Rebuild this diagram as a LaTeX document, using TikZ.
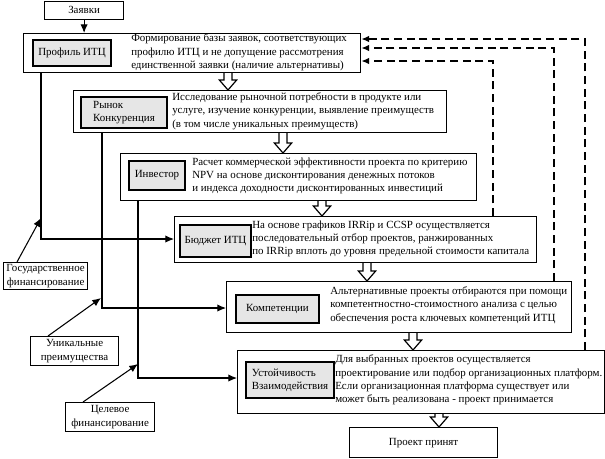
\documentclass[tikz,border=0pt]{standalone}
\usepackage{fontspec}
\setmainfont{Liberation Serif}
\usetikzlibrary{arrows.meta,calc}
\definecolor{lblfill}{RGB}{230,230,230}
\newcommand\hollowarr[3]{%
  \coordinate (hx) at (#1,0);
  \draw[line width=0.9pt,fill=white] let \p1=(#2.south -| hx), \p2=(#3.north -| hx) in
   (\x1-3pt,\y1) -- (\x1-3pt,\y2+7.5pt) -- (\x1-6.5pt,\y2+7.5pt) -- (\x1,\y2) --
   (\x1+6.5pt,\y2+7.5pt) -- (\x1+3pt,\y2+7.5pt) -- (\x1+3pt,\y1);
}
\begin{document}
\begin{tikzpicture}[x=0.75pt,y=-0.75pt,
  font=\fontsize{8.2}{10}\selectfont,
  outer/.style={draw,line width=0.9pt,fill=white,anchor=north west,inner sep=0},
  lbl/.style={draw,line width=1.5pt,fill=lblfill,anchor=north west,inner sep=0,align=center},
  desc/.style={anchor=west,inner sep=0,align=left},
  side/.style={draw,line width=0.9pt,fill=white,anchor=north west,inner sep=0,align=center},
  conn/.style={line width=0.8pt,-{Latex[length=6.5pt,width=5.5pt]}},
  fb/.style={line width=1.2pt,dash pattern=on 6pt off 3.5pt,-{Latex[length=6pt,width=5pt]}}]
\useasboundingbox (0,0) rectangle (605,458);

% top request box
\node[side,minimum width=59.25pt,minimum height=13.5pt] (req) at (44,0.5) {Заявки};

% stage boxes
\node[outer,minimum width=252.75pt,minimum height=29.25pt] (b1) at (23,33) {};
\node[lbl,minimum width=58.5pt,minimum height=19.5pt] (l1) at (32,39) {Профиль ИТЦ};
\node[desc] (t1) at (131,52.5) {Формирование базы заявок, соответствующих\\профилю ИТЦ и не допущение рассмотрения\\единственной заявки (наличие альтернативы)};

\node[outer,minimum width=279.75pt,minimum height=31.5pt] (b2) at (73,90) {};
\node[lbl,minimum width=64.5pt,minimum height=23.25pt,align=left] (l2) at (80,96) {Рынок\\Конкуренция};
\node[desc] (t2) at (172,111) {Исследование рыночной потребности в продукте или\\услуге, изучение конкуренции, выявление преимуществ\\(в том числе уникальных преимуществ)};

\node[outer,minimum width=267pt,minimum height=35.25pt] (b3) at (120,153) {};
\node[lbl,minimum width=42pt,minimum height=21.75pt] (l3) at (128,160) {Инвестор};
\node[desc] (t3) at (192,176) {Расчет коммерческой эффективности проекта по критерию\\NPV на основе дисконтирования денежных потоков\\и индекса доходности дисконтированных инвестиций};

\node[outer,minimum width=271.5pt,minimum height=34.5pt] (b4) at (174,216) {};
\node[lbl,minimum width=53.25pt,minimum height=24pt] (l4) at (179,224) {Бюджет ИТЦ};
\node[desc] (t4) at (252,239) {На основе графиков IRRip и CCSP осуществляется\\последовательный отбор проектов, ранжированных\\по IRRip вплоть до уровня предельной стоимости капитала};

\node[outer,minimum width=258.75pt,minimum height=38.25pt] (b5) at (226,281) {};
\node[lbl,minimum width=62.25pt,minimum height=21pt] (l5) at (235,294) {Компетенции};
\node[desc] (t5) at (330,305) {Альтернативные проекты отбираются при помощи\\компетентностно-стоимостного анализа с целью\\обеспечения роста ключевых компетенций ИТЦ};

\node[outer,minimum width=275.25pt,minimum height=47.25pt] (b6) at (237,350) {};
\node[lbl,minimum width=66pt,minimum height=27pt,align=left] (l6) at (245,361) {Устойчивость\\Взаимодействия};
\node[desc] (t6) at (335,380) {Для выбранных проектов осуществляется\\проектирование или подбор организационных платформ.\\Если организационная платформа существует или\\может быть реализована - проект принимается};

\node[side,minimum width=111pt,minimum height=22.5pt] (fin) at (349,427) {Проект принят};

% side labels
\node[side,minimum width=63pt,minimum height=20.25pt] (gos) at (3,262) {Государственное\\финансирование};
\node[side,minimum width=66pt,minimum height=21.75pt] (uni) at (30,336) {Уникальные\\преимущества};
\node[side,minimum width=66.75pt,minimum height=21.75pt] (tsel) at (65,402) {Целевое\\финансирование};

% request arrow
\draw[conn] (req.south) -- (req.south |- b1.north);

% hollow flow arrows
\hollowarr{228}{b1}{b2}
\hollowarr{283}{b2}{b3}
\hollowarr{322}{b3}{b4}
\hollowarr{367}{b4}{b5}
\hollowarr{413}{b5}{b6}
\hollowarr{439}{b6}{fin}

% left resource lines
\coordinate (x1) at (41,0);
\coordinate (x2) at (102,0);
\coordinate (x3) at (138,0);
\coordinate (y1) at (0,239);
\coordinate (y2) at (0,308);
\coordinate (y3) at (0,378);
\draw[conn] (b1.south -| x1) |- (b4.west |- y1);
\draw[conn] (b2.south -| x2) |- (b5.west |- y2);
\draw[conn] (b3.south -| x3) |- (b6.west |- y3);
\coordinate (g1) at (41,218);
\coordinate (g2) at (101,298);
\coordinate (g3) at (138,364);
\draw[conn] ($(gos.north west)+(14,0)$) -- (g1);
\draw[conn] ($(uni.north west)+(18,0)$) -- (g2);
\draw[conn] ($(tsel.north west)+(18,0)$) -- (g3);

% dashed feedback lines
\coordinate (d1) at (585,0);
\coordinate (d2) at (554,0);
\coordinate (d3) at (493,0);
\coordinate (e1) at (0,39);
\coordinate (e2) at (0,48);
\coordinate (e3) at (0,61);
\draw[fb] (b6.north -| d1) |- (b1.east |- e1);
\draw[fb] (b5.north -| d2) |- (b1.east |- e2);
\draw[fb] (b4.north -| d3) |- (b1.east |- e3);
\end{tikzpicture}
\end{document}
